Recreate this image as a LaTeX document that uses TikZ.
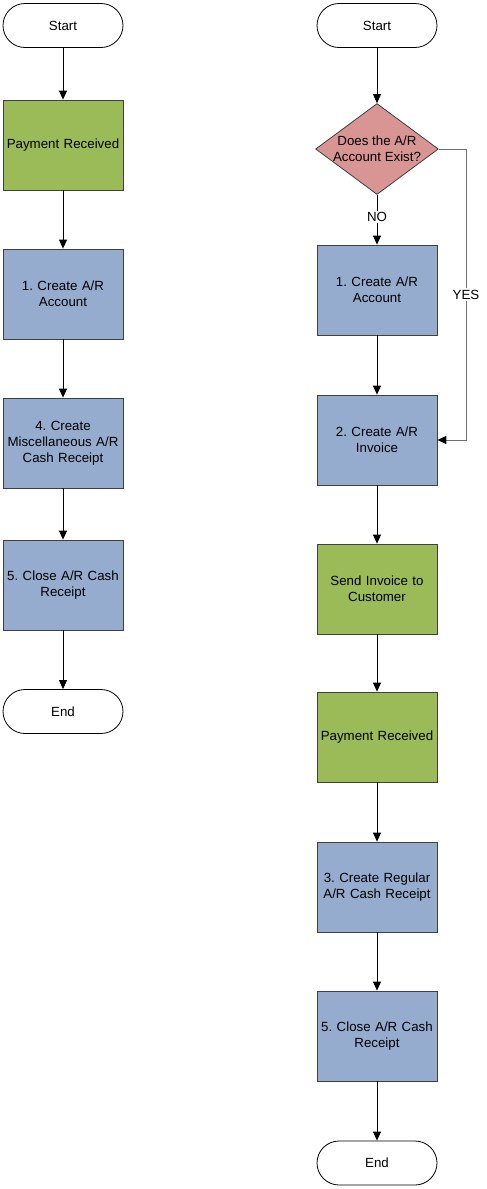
\documentclass[tikz,border=0pt]{standalone}
\usepackage{fontspec}
\setmainfont{Liberation Sans}
\usetikzlibrary{arrows.meta,shapes.geometric}
\definecolor{boxgreen}{RGB}{155,187,89}
\definecolor{boxblue}{RGB}{149,172,207}
\definecolor{boxred}{RGB}{217,149,148}
\definecolor{edgegray}{RGB}{64,64,64}
\definecolor{linegray}{RGB}{110,110,110}
\tikzset{
  every node/.style={font=\fontsize{13.3}{16}\selectfont, align=center},
  term/.style={draw=black, line width=0.8pt, fill=white, minimum width=120pt, minimum height=44pt, rounded corners=22pt, inner sep=0pt},
  procbox/.style={draw=edgegray, line width=0.8pt, minimum width=120pt, minimum height=90pt, inner sep=2pt, text width=116pt},
  greenbox/.style={procbox, fill=boxgreen},
  bluebox/.style={procbox, fill=boxblue},
  decbox/.style={diamond, draw=edgegray, line width=0.8pt, fill=boxred, minimum width=119pt, minimum height=88pt, aspect=1.35, inner sep=0pt},
  conn/.style={draw=black, line width=0.8pt, -{Triangle[length=9pt,width=8pt]}},
  grayconn/.style={draw=linegray, line width=1pt, -{Triangle[length=9pt,width=8pt,color=black]}},
  lbl/.style={fill=white, inner sep=1.5pt}
}
\frenchspacing
\begin{document}
\begin{tikzpicture}[x=1pt,y=-1pt]
\useasboundingbox[fill=white] (0,0) rectangle (487,1189);
% left column
\node[term] (ls) at (63,25.5) {Start};
\node[greenbox] (lp) at (63,145) {Payment Received};
\node[bluebox] (l1) at (63,294) {1. Create A/R\\Account};
\node[bluebox] (l4) at (63,443) {4. Create\\Miscellaneous A/R\\Cash Receipt};
\node[bluebox] (l5) at (63,585) {5. Close A/R Cash\\Receipt};
\node[term] (le) at (63,711.5) {End};
\draw[conn] (ls) -- (lp);
\draw[conn] (lp) -- (l1);
\draw[conn] (l1) -- (l4);
\draw[conn] (l4) -- (l5);
\draw[conn] (l5) -- (le);
% right column
\node[term] (rs) at (377,25.5) {Start};
\node[decbox] (rd) at (377,149) {Does the A/R\\Account Exist?};
\node[bluebox] (r1) at (377,290) {1. Create A/R\\Account};
\node[bluebox] (r2) at (377,440) {2. Create A/R\\Invoice};
\node[greenbox] (rsend) at (377,589) {Send Invoice to\\Customer};
\node[greenbox] (rp) at (377,737) {Payment Received};
\node[bluebox] (r3) at (377,887) {3. Create Regular\\A/R Cash Receipt};
\node[bluebox] (r5) at (377,1036) {5. Close A/R Cash\\Receipt};
\node[term] (re) at (377,1163) {End};
\coordinate (yc1) at (466,149);
\coordinate (yc2) at (466,440);
\draw[conn] (rs) -- (rd);
\draw[conn] (rd) -- node[lbl, pos=0.45] {NO} (r1);
\draw[grayconn] (rd.east) -- (yc1) -- node[lbl, pos=0.5, text=black] {YES} (yc2) -- (r2.east);
\draw[conn] (r1) -- (r2);
\draw[conn] (r2) -- (rsend);
\draw[conn] (rsend) -- (rp);
\draw[conn] (rp) -- (r3);
\draw[conn] (r3) -- (r5);
\draw[conn] (r5) -- (re);
\end{tikzpicture}
\end{document}
